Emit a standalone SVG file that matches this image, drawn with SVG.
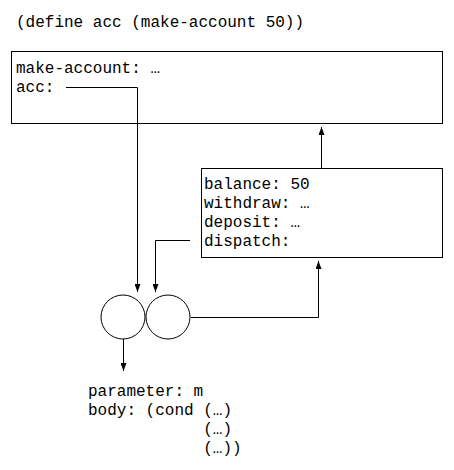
<svg xmlns="http://www.w3.org/2000/svg" width="454" height="470" viewBox="0 0 454 470">
<style>
text{font-family:"Liberation Mono","Courier New",monospace;font-size:16px;fill:#000}
.box{fill:#fff;stroke:#000;stroke-width:1}
.ln{fill:none;stroke:#000;stroke-width:1}
</style>
<defs>
<marker id="ah" viewBox="0 0 8 6" refX="8" refY="3" markerWidth="8" markerHeight="6" markerUnits="userSpaceOnUse" orient="auto">
<path d="M0,0 L8,3 L0,6 z" fill="#000"/>
</marker>
</defs>
<rect width="454" height="470" fill="#fff"/>
<text id="title" x="16" y="27">(define acc (make-account 50))</text>
<g id="global">
<rect class="box" x="11.5" y="51.5" width="431" height="72"/>
<text x="16" y="73">make-account: …</text>
<text x="16" y="92">acc:</text>
</g>
<g id="env">
<rect class="box" x="201.5" y="168.5" width="241" height="89"/>
<text x="204" y="189">balance: 50</text>
<text x="204" y="208">withdraw: …</text>
<text x="204" y="227">deposit: …</text>
<text x="204" y="246">dispatch:</text>
</g>
<g id="proc">
<circle class="ln" cx="123" cy="317" r="22"/>
<circle class="ln" cx="168" cy="317" r="22"/>
</g>
<g id="code">
<text x="88" y="396">parameter: m</text>
<text x="88" y="415">body: (cond (…)</text>
<text x="203.2" y="434">(…)</text>
<text x="203.2" y="453">(…))</text>
</g>
<g id="connectors">
<path class="ln" d="M66,87.5 H137.5 V292" marker-end="url(#ah)"/>
<path class="ln" d="M190,240.5 H155.5 V292" marker-end="url(#ah)"/>
<path class="ln" d="M321.5,168 V127" marker-end="url(#ah)"/>
<path class="ln" d="M191,317.5 H318.5 V261" marker-end="url(#ah)"/>
<path class="ln" d="M123.5,339 V371" marker-end="url(#ah)"/>
</g>
</svg>
